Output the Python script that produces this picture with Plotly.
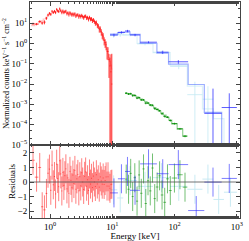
import math
import plotly.graph_objects as go

# ---------------- data ----------------
# Red instrument (soft X-ray), bin edges in keV
red_edges = [0.50, 0.57, 0.65, 0.72, 0.78, 0.85, 0.905, 0.955, 1.005, 1.055, 1.105,
             1.155, 1.205, 1.255, 1.305, 1.355, 1.405, 1.46, 1.52, 1.58, 1.64,
             1.70, 1.765, 1.835, 1.905, 1.975, 2.05, 2.13, 2.21, 2.29, 2.375,
             2.465, 2.555, 2.65, 2.75, 2.85, 2.955, 3.065, 3.175, 3.29, 3.41,
             3.535, 3.665, 3.80, 3.94, 4.085, 4.235, 4.39, 4.55, 4.715, 4.89,
             5.07, 5.255, 5.45, 5.65, 5.855, 6.07, 6.295, 6.53, 6.77, 7.015,
             7.27, 7.535, 7.81, 8.095, 8.39, 8.695, 9.01, 9.335, 9.67, 10.0]
red_data = [9.3, 9.0, 12.1, 10.1, 11.2, 17.3, 25.3, 30.5, 27.1, 38.4,
            33.5, 38.7, 33.4, 47.6, 41.1, 37.5, 50.7, 41.8, 33.3, 40.3,
            33.6, 36.7, 38.9, 29.4, 32.6, 26.1, 33.1, 28.6, 25.3, 28.9,
            25.3, 29.2, 22.4, 25.0, 25.9, 20.5, 24.1, 20.9, 24.3, 21.0,
            18.5, 21.6, 22.4, 17.9, 19.0, 15.7, 19.2, 15.8, 16.3, 13.2,
            14.6, 12.1, 10.0, 10.8, 7.9, 7.2, 5.1, 5.2, 3.7, 2.6,
            2.3, 1.4, 1.1, 0.86, 0.41, 0.40, 0.16, 0.078, 0.04, 0.01]
red_err = [1.2, 1.2, 1.6, 1.7, 2.5, 2.8, 3.8, 4.5, 4.2, 5.5,
           5.2, 5.8, 5.6, 7, 6.5, 6.2, 8, 6.8, 6, 6.5,
           6, 6.2, 6.5, 5.5, 5.6, 5, 5.6, 5.2, 4.8, 5,
           4.7, 5, 4.4, 4.6, 4.6, 4.1, 4.4, 4.1, 4.4, 4.1,
           3.9, 4.1, 4.2, 3.8, 3.9, 3.6, 3.8, 3.5, 3.5, 3.1,
           3.2, 2.9, 2.6, 2.6, 2.2, 2.0, 1.7, 1.7, 1.3, 1.0,
           0.9, 0.6, 0.5, 0.4, 0.25, 0.25, 0.14, 0.12, 0.25, 0.3]
red_model = [7.5, 8.6, 10.5, 13, 16, 19.5, 23, 26.5, 29.5, 32,
             34.5, 36.5, 38, 39, 39.5, 39.5, 39, 38, 37, 36,
             35, 34, 33, 32, 31, 30, 29, 28, 27.2, 26.5,
             25.8, 25.2, 24.6, 24, 23.5, 23, 22.5, 22, 21.5, 21,
             20.5, 20, 19.5, 19, 18.4, 17.8, 17.1, 16.3, 15.4, 14.4,
             13.3, 12.1, 10.8, 9.5, 8.2, 6.9, 5.7, 4.6, 3.6, 2.75,
             2.05, 1.5, 1.05, 0.72, 0.48, 0.31, 0.2, 0.13, 0.085, 0.055]

# Blue instrument (hard X-ray)
blue_edges = [9.2, 12.3, 16, 19.2, 28, 52, 80, 165, 300, 570, 1000]
blue_data = [2.6, 3.5, 4.1, 2.6, 1.15, 0.37, 0.125, -0.02, 3.6e-4, 7e-4]
blue_err = [0.4, 0.45, 0.55, 0.35, 0.12, 0.07, 0.025, 0.015, 5.6e-3, 2.8e-3]
blue_model = [2.9, 3.4, 3.7, 2.8, 1.0, 0.33, 0.095, 0.0095, 4e-4, 1e-5]

# Light-cyan instrument
cyan_edges = [9.2, 12, 15, 25, 45, 85, 160, 280, 420, 620, 1000]
cyan_data = [2.43, 2.65, 2.64, 0.955, 0.368, 0.074, 0.003, 0.0018, -0.0046, -0.0021]
cyan_err = [0.5, 0.5, 0.4, 0.15, 0.06, 0.02, 0.01, 0.006, 0.004, 0.003]
cyan_model = [2.7, 3.2, 2.6, 1.0, 0.35, 0.08, 0.008, 6e-4, 2e-4, 1e-5]

# Green instrument
green_edges = [16, 17.5, 19, 20.5, 22, 24, 26, 28, 30.5, 33, 36, 39, 42.5, 46,
               50, 55, 60, 66, 73, 81, 90, 110, 135, 160]
green_data = [3.57e-3, 3.23e-3, 3.39e-3, 2.70e-3, 2.78e-3, 2.04e-3, 2.15e-3,
              1.66e-3, 1.69e-3, 1.15e-3, 1.16e-3, 9.2e-4, 9.1e-4, 6.2e-4,
              5.6e-4, 4.9e-4, 3.46e-4, 2.58e-4, 2.35e-4, 1.6e-4, 1.13e-4,
              6.3e-5, 2.7e-5]
green_err = [3.5e-4, 3.4e-4, 3.2e-4, 3.0e-4, 2.7e-4, 2.35e-4, 2.05e-4, 1.8e-4,
             1.55e-4, 1.35e-4, 1.15e-4, 9.8e-5, 8.3e-5, 7e-5, 5.8e-5, 4.7e-5,
             3.8e-5, 3.0e-5, 2.3e-5, 1.7e-5, 1.1e-5, 6e-6, 2.8e-6]
green_model = [3.5e-3, 3.4e-3, 3.2e-3, 3.0e-3, 2.7e-3, 2.35e-3, 2.05e-3, 1.8e-3,
               1.55e-3, 1.35e-3, 1.15e-3, 9.8e-4, 8.3e-4, 7.0e-4, 5.8e-4, 4.7e-4,
               3.8e-4, 3.0e-4, 2.3e-4, 1.7e-4, 1.1e-4, 6e-5, 2.8e-5]

x_tickvals = [1, 10, 100, 1000]
x_ticktext = ["10<sup>0</sup>", "10<sup>1</sup>", "10<sup>2</sup>", "10<sup>3</sup>"]
y_tickvals = [1e-5, 1e-4, 1e-3, 1e-2, 1e-1, 1, 10]
y_ticktext = ["10<sup>−5</sup>", "10<sup>−4</sup>", "10<sup>−3</sup>", "10<sup>−2</sup>",
              "10<sup>−1</sup>", "10<sup>0</sup>", "10<sup>1</sup>"]
r_tickvals = [-2, -1, 0, 1, 2]
r_ticktext = ["−2", "−1", "0", "1", "2"]

FONT = "Liberation Serif, DejaVu Serif, serif"


def centres(edges):
    return [math.sqrt(a * b) for a, b in zip(edges[:-1], edges[1:])]


def add_set(fig, edges, data, err, model, dcol, rcol, mcol, ethick=1.0, mwidth=1.2):
    c = centres(edges)
    xp = [hi - x for hi, x in zip(edges[1:], c)]
    xm = [x - lo for lo, x in zip(edges[:-1], c)]
    # model as step line (top panel)
    sx, sy = [], []
    for lo, hi, m in zip(edges[:-1], edges[1:], model):
        sx += [lo, hi]
        sy += [m, m]
    fig.add_trace(go.Scatter(x=sx, y=sy, mode="lines", xaxis="x2", yaxis="y",
                             line=dict(color=mcol, width=mwidth), hoverinfo="skip"))
    # data crosses (top panel)
    fig.add_trace(go.Scatter(
        x=c, y=data, mode="markers", xaxis="x2", yaxis="y",
        marker=dict(size=1, color="rgba(0,0,0,0)"),
        error_x=dict(type="data", array=xp, arrayminus=xm, color=dcol, thickness=ethick, width=0),
        error_y=dict(type="data", array=err, color=dcol, thickness=ethick, width=0)))
    # residuals
    res = [(d - m) / e for d, m, e in zip(data, model, err)]
    fig.add_trace(go.Scatter(
        x=c, y=res, mode="markers", xaxis="x", yaxis="y2",
        marker=dict(size=1, color="rgba(0,0,0,0)"),
        error_x=dict(type="data", array=xp, arrayminus=xm, color=rcol, thickness=ethick, width=0),
        error_y=dict(type="constant", value=1, color=rcol, thickness=ethick, width=0)))


fig = go.Figure()
add_set(fig, cyan_edges, cyan_data, cyan_err, cyan_model,
        "rgba(195,232,242,0.8)", "rgba(195,232,242,0.9)", "rgba(195,232,242,0.55)")
add_set(fig, green_edges, green_data, green_err, green_model,
        "rgba(0,140,0,0.85)", "rgba(0,140,0,0.55)", "rgba(60,170,60,0.55)")
add_set(fig, blue_edges, blue_data, blue_err, blue_model,
        "rgba(40,40,255,0.75)", "rgba(40,40,255,0.6)", "rgba(90,120,255,0.6)")
add_set(fig, red_edges, red_data, red_err, red_model,
        "rgba(255,0,0,0.75)", "rgba(255,0,0,0.5)", "rgba(255,110,110,0.4)")

axis_common = dict(showline=True, linecolor="#444", linewidth=1, mirror="allticks",
                   ticks="inside", ticklen=4, tickcolor="#444", showgrid=False,
                   zeroline=False, automargin=False,
                   tickfont=dict(family=FONT, size=9, color="black"))

fig.update_layout(
    width=249, height=241,
    margin=dict(l=30, r=9, t=2, b=23),
    paper_bgcolor="white", plot_bgcolor="white",
    showlegend=False,
    font=dict(family=FONT, size=9, color="black"),
    xaxis=dict(type="log", range=[-0.321, 3.05], anchor="y2",
               tickvals=x_tickvals, ticktext=x_ticktext,
               minor=dict(ticks="inside", ticklen=2, tickcolor="#444"),
               title=dict(text="Energy [keV]", font=dict(family=FONT, size=9), standoff=0),
               **axis_common),
    xaxis2=dict(type="log", range=[-0.321, 3.05], anchor="y", matches="x",
                tickvals=x_tickvals, showticklabels=False,
                minor=dict(ticks="inside", ticklen=2, tickcolor="#444"),
                **axis_common),
    yaxis=dict(type="log", range=[-5, 2.04], domain=[0.338, 1], anchor="x2",
               tickvals=y_tickvals, ticktext=y_ticktext,
               minor=dict(ticks="inside", ticklen=2, tickcolor="#444"),
               title=dict(text="Normalized counts keV<sup>−1</sup> s<sup>−1</sup> cm<sup>−2</sup>",
                          font=dict(family=FONT, size=8), standoff=0),
               **axis_common),
    yaxis2=dict(range=[-2.48, 2.55], domain=[0, 0.338], anchor="x",
                tickvals=r_tickvals, ticktext=r_ticktext,
                minor=dict(ticks="inside", ticklen=2, tickcolor="#444", dtick=0.5),
                title=dict(text="Residuals", font=dict(family=FONT, size=9), standoff=0),
                **axis_common),
)
fig.add_shape(type="line", xref="x domain", yref="y2", x0=0, x1=1, y0=0, y1=0,
              line=dict(color="rgba(80,80,80,0.8)", width=1))

fig.write_html("out.html", config={"displayModeBar": False},
               post_script="document.body.style.margin='0';document.body.style.overflow='hidden';")
